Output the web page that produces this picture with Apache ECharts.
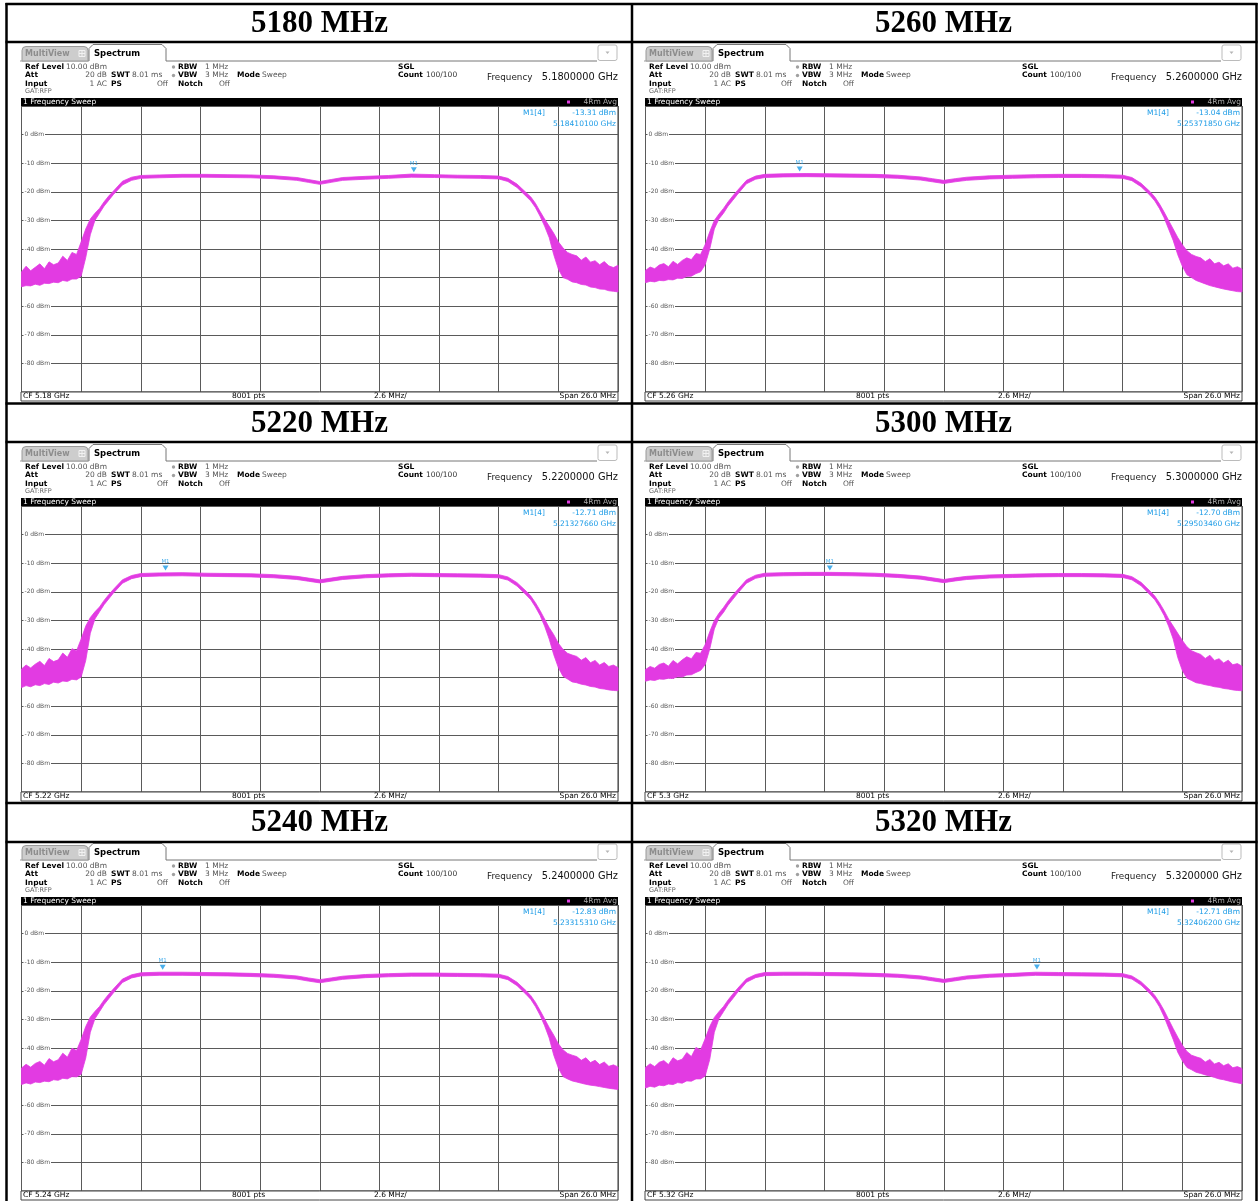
<!DOCTYPE html>
<html><head><meta charset="utf-8">
<script src="https://cdn.jsdelivr.net/npm/echarts@6/dist/echarts.min.js"></script>
<style>html,body{margin:0;padding:0;background:#fff}#c{width:1259px;height:1201px}</style>
</head><body><div id="c"></div>
<script>
// Frequency offsets from centre frequency (MHz)
const FREQ = [-13,-12.8,-12.6,-12.4,-12.2,-12,-11.8,-11.6,-11.4,-11.2,-11,-10.8,-10.6,-10.4,
  -10.2,-10,-9.8,-9.6,-9.4,-9.2,-9,-8.6,-8.2,-7.8,-7,-6,-5,-4,-3,-2,-1,-0.5,0,0.5,1,2,3,4,5,6,7,7.8,8.2,8.6,9,9.2,9.4,9.6,9.8,10,10.2,
  10.4,10.6,10.8,11,11.2,11.4,11.6,11.8,12,12.2,12.4,12.6,12.8,13];

// Trace envelopes (dBm): upper and lower edge of the noisy trace
const P5180_UP = [-48,-46.0,-47.6,-46.4,-45.2,-46.9,-44.5,-45.5,-44.9,-42.5,-44.0,-41.2,-41.9,-37.5,
  -33,-29.5,-27.5,-25.8,-23.5,-21.5,-19.8,-16.3,-14.9,-14.3,-14.1,-13.9,-13.9,-14.0,-14.1,-14.4,-15.0,-15.7,-16.4,-15.7,-15.0,-14.6,-14.3,-13.8,-14.0,-14.2,-14.3,-14.5,-15.3,-17.3,-20.3,-21.8,-24.0,-26.8,-29.5,-32,-34.5,
  -37.5,-39.6,-41.2,-41.9,-42.4,-43.9,-42.8,-44.6,-44.1,-45.5,-44.4,-45.9,-46.5,-45.7];
const P5180_LO = [-53.2,-52.8,-52.9,-52.3,-52.7,-52.0,-52.1,-51.6,-51.8,-51.0,-51.3,-50.5,-50.5,-49.5,
  -43,-35,-30,-27.5,-25,-23,-21,-17.6,-16.0,-15.3,-15.1,-14.9,-14.9,-15.0,-15.1,-15.4,-16.0,-16.7,-17.4,-16.7,-16.0,-15.6,-15.3,-14.9,-15.0,-15.2,-15.3,-15.5,-16.4,-18.5,-21.6,-23.2,-25.5,-28.5,-32,-36,-42,
  -47,-50,-50.6,-51.5,-51.8,-52.4,-52.6,-53.3,-53.5,-54,-54.1,-54.6,-54.8,-55];

const P5260_UP = [-47.5,-46.3,-46.9,-45.6,-45.1,-46.2,-44.3,-45.4,-44.0,-43.1,-43.7,-41.6,-41.9,-38.5,
  -34,-30,-27.8,-25.8,-23.5,-21.5,-19.6,-16,-14.5,-13.9,-13.7,-13.6,-13.7,-13.8,-13.9,-14.2,-14.8,-15.4,-16.0,-15.4,-14.9,-14.4,-14.2,-14.0,-13.9,-13.9,-14.0,-14.2,-15.0,-17.0,-20.0,-21.8,-24.2,-27,-30,-33,-36,
  -38.5,-40.6,-41.9,-42.6,-43.1,-44.4,-43.4,-45.2,-44.6,-45.9,-45.2,-46.7,-46.2,-47];
const P5260_LO = [-51.8,-51.3,-51.5,-51,-51.1,-50.7,-50.8,-50.2,-50.3,-49.6,-49.5,-48.6,-48,-45.5,
  -40,-33,-29.5,-27.5,-25,-23,-21,-17.2,-15.6,-15,-14.8,-14.7,-14.8,-14.9,-15.0,-15.3,-15.9,-16.5,-17.1,-16.5,-16.0,-15.5,-15.3,-15.1,-15.0,-15.0,-15.1,-15.3,-16.1,-18.2,-21.3,-23.2,-25.8,-29,-33,-37,-42,
  -46,-49,-50,-51,-51.6,-52.2,-52.8,-53.2,-53.6,-54,-54.3,-54.6,-54.9,-55];

const P5220_UP = [-47,-45.6,-46.6,-45.3,-44.3,-45.8,-43.3,-44.4,-43.8,-41.4,-42.9,-39.9,-40.6,-36.5,
  -32,-29,-27,-25.3,-23,-21,-19.2,-15.8,-14.3,-13.6,-13.4,-13.3,-13.5,-13.6,-13.7,-14.0,-14.6,-15.2,-15.8,-15.2,-14.6,-14.0,-13.7,-13.5,-13.6,-13.7,-13.8,-14.0,-14.8,-16.8,-19.8,-21.5,-23.8,-26.5,-29.5,-32.5,-35,
  -38,-40.1,-41.5,-42.1,-42.6,-43.9,-43.0,-44.8,-44.0,-45.6,-44.7,-46.1,-45.6,-46.5];
const P5220_LO = [-53.5,-52.8,-53.2,-52.5,-52.8,-52.1,-52.4,-51.6,-51.9,-51.2,-51.4,-50.6,-50.8,-49.8,
  -44,-34.5,-29.5,-27,-24.5,-22.5,-20.5,-17,-15.4,-14.7,-14.5,-14.4,-14.6,-14.7,-14.8,-15.1,-15.7,-16.3,-16.9,-16.3,-15.7,-15.1,-14.8,-14.6,-14.7,-14.8,-14.9,-15.1,-15.9,-18,-21.1,-22.8,-25.3,-28.2,-32,-36.5,-42,
  -46.5,-49.5,-50.5,-51.5,-51.8,-52.3,-52.6,-53.1,-53.3,-53.8,-54,-54.3,-54.5,-54.6];

const P5300_UP = [-47.2,-46.1,-46.7,-45.4,-44.9,-46.0,-44.0,-45.2,-43.8,-42.7,-43.4,-41.2,-41.5,-38.5,
  -34,-30,-27.5,-25.5,-23.2,-21.2,-19.4,-15.8,-14.2,-13.5,-13.3,-13.2,-13.2,-13.3,-13.5,-13.9,-14.5,-15.1,-15.7,-15.1,-14.6,-14.1,-13.9,-13.7,-13.6,-13.6,-13.7,-13.9,-14.7,-16.7,-19.8,-21.5,-23.8,-26.5,-29.5,-32,-34.5,
  -37,-39.2,-40.6,-41.3,-41.9,-43.3,-42.2,-44.0,-43.4,-44.9,-43.9,-45.5,-45.1,-46];
const P5300_LO = [-51.3,-50.8,-51,-50.5,-50.6,-50.2,-50.3,-49.7,-49.8,-49.1,-49,-48.2,-47.5,-45.5,
  -40,-33,-29.2,-27.2,-24.7,-22.7,-20.7,-17,-15.3,-14.6,-14.4,-14.3,-14.3,-14.4,-14.6,-15.0,-15.6,-16.2,-16.8,-16.2,-15.7,-15.2,-15.0,-14.8,-14.7,-14.7,-14.8,-15.0,-15.8,-17.9,-21.1,-22.8,-25.3,-28.2,-32,-36.5,-43,
  -47.5,-50.2,-51,-51.8,-52.1,-52.5,-52.8,-53.2,-53.4,-53.8,-54,-54.3,-54.5,-54.6];

const P5240_UP = [-47,-45.7,-46.7,-45.4,-44.7,-46.0,-43.7,-44.8,-44.1,-41.8,-43.2,-40.1,-40.9,-37,
  -32.5,-29.2,-27.2,-25.5,-23.2,-21.2,-19.4,-15.9,-14.4,-13.7,-13.5,-13.5,-13.6,-13.7,-13.9,-14.2,-14.8,-15.5,-16.1,-15.5,-14.9,-14.3,-14.0,-13.8,-13.8,-13.9,-14.0,-14.2,-15.0,-17.0,-20.0,-21.7,-24.0,-26.8,-29.8,-32.8,-35.5,
  -38.5,-40.6,-41.9,-42.5,-43.0,-44.3,-43.4,-45.1,-44.3,-45.8,-44.9,-46.4,-45.9,-46.6];
const P5240_LO = [-52.8,-52.2,-52.6,-51.9,-52.1,-51.6,-51.8,-51.1,-51.3,-50.6,-50.8,-50,-50.1,-49.2,
  -43.5,-34.5,-29.8,-27.3,-24.8,-22.8,-20.8,-17.1,-15.5,-14.8,-14.6,-14.6,-14.7,-14.8,-15.0,-15.3,-15.9,-16.6,-17.2,-16.6,-16.0,-15.4,-15.1,-14.9,-14.9,-15.0,-15.1,-15.3,-16.1,-18.2,-21.3,-23,-25.5,-28.5,-32.2,-36.5,-42.5,
  -47,-50,-50.8,-51.5,-51.9,-52.3,-52.7,-53,-53.2,-53.5,-53.8,-54.1,-54.3,-54.5];

const P5320_UP = [-46.8,-45.5,-46.5,-45.0,-44.4,-45.8,-43.4,-44.5,-43.9,-41.6,-43.0,-39.8,-40.7,-36.8,
  -32.5,-29.3,-27.3,-25.5,-23.2,-21.2,-19.3,-15.8,-14.3,-13.6,-13.5,-13.5,-13.6,-13.7,-13.9,-14.2,-14.8,-15.4,-16.0,-15.4,-14.8,-14.2,-13.9,-13.5,-13.6,-13.7,-13.8,-14.0,-14.8,-16.8,-19.8,-21.6,-24,-26.8,-30,-33.2,-36.2,
  -39,-41.2,-42.5,-43.1,-43.6,-44.9,-44.0,-45.6,-45.0,-46.2,-45.5,-46.9,-46.5,-47.2];
const P5320_LO = [-54,-53.4,-53.7,-53,-53.2,-52.6,-52.8,-52.1,-52.3,-51.5,-51.6,-50.8,-50.8,-49.8,
  -44,-34.5,-29.8,-27.3,-24.8,-22.8,-20.7,-17,-15.4,-14.7,-14.6,-14.6,-14.7,-14.8,-15.0,-15.3,-15.9,-16.5,-17.1,-16.5,-15.9,-15.3,-15.0,-14.6,-14.7,-14.8,-14.9,-15.1,-15.9,-18,-21.1,-23,-25.6,-29,-33,-37,-41.5,
  -44.5,-46.8,-47.6,-48.5,-48.9,-49.4,-49.8,-50.3,-50.8,-51.1,-51.5,-51.9,-52.2,-52.5];

// Panel texts and markers (table order: row by row, left then right)
const TITLES = ['5180 MHz','5260 MHz','5220 MHz','5300 MHz','5240 MHz','5320 MHz'];
const CF_LABELS = ['CF 5.18 GHz','CF 5.26 GHz','CF 5.22 GHz','CF 5.3 GHz','CF 5.24 GHz','CF 5.32 GHz'];
const FREQ_LABELS = ['5.1800000 GHz','5.2600000 GHz','5.2200000 GHz','5.3000000 GHz','5.2400000 GHz','5.3200000 GHz'];
const MARKER_LEVEL_LABELS = ['-13.31 dBm','-13.04 dBm','-12.71 dBm','-12.70 dBm','-12.83 dBm','-12.71 dBm'];
const MARKER_FREQ_LABELS = ['5.18410100 GHz','5.25371850 GHz','5.21327660 GHz','5.29503460 GHz','5.23315310 GHz','5.32406200 GHz'];
const MARKER_OFFSET = [4.101, -6.2815, -6.7234, -4.9654, -6.8469, 4.062];   // MHz from CF
const MARKER_DBM = [-13.31, -13.04, -12.71, -12.70, -12.83, -12.71];
const UPPER = [P5180_UP, P5260_UP, P5220_UP, P5300_UP, P5240_UP, P5320_UP];
const LOWER = [P5180_LO, P5260_LO, P5220_LO, P5300_LO, P5240_LO, P5320_LO];
const Y_TICKS = {min:-90, max:10, step:10};
const X_TICKS = {min:-13, max:13, step:2.6};

// ---- layout ----
const MAG = '#e23be2';
const BLUE = '#1c9be6';
const FONT = '"DejaVu Sans", Verdana, sans-serif';
const COL_X = [0, 624];
const ROW_Y = [0, 400, 799];

function T(x, y, text, o) {
  return {type:'text', x:x, y:y, silent:true, z:50,
    style:Object.assign({text:text, fill:'#000', font:'7.5px ' + FONT, align:'left', verticalAlign:'middle'}, o || {})};
}
function R(x, y, w, h, style, r) {
  return {type:'rect', silent:true, z:40, shape:{x:x, y:y, width:w, height:h, r:r || 0}, style:style};
}
function L(x1, y1, x2, y2, stroke, lw, z) {
  return {type:'line', silent:true, z:z || 40, shape:{x1:x1, y1:y1, x2:x2, y2:y2}, style:{stroke:stroke, lineWidth:lw || 1}};
}

const graphics = [];
const grids = [], xAxes = [], yAxes = [], series = [];

for (let i = 0; i < 6; i++) {
  const ox = COL_X[i % 2], oy = ROW_Y[Math.floor(i / 2)];
  const X = v => v + ox, Y = v => v + oy;
  const b = 'bold 7.5px ' + FONT, g = '#555';

  // title
  graphics.push(T(X(319.5), Y(23.5), TITLES[i], {font:'bold 31px "Liberation Serif", "Times New Roman", serif', align:'center'}));

  // tab bar
  graphics.push(L(X(20), Y(61), X(89), Y(61), '#9a9a9a'));
  graphics.push(R(X(22), Y(46.5), 66, 14.5, {fill:'#cdcdcd', stroke:'#9a9a9a', lineWidth:1}, [4,4,0,0]));
  graphics.push(T(X(25), Y(54), 'MultiView', {font:'bold 8px ' + FONT, fill:'#8d8d8d'}));
  graphics.push(R(X(79), Y(50.5), 6, 6, {fill:'none', stroke:'#f2f2f2', lineWidth:1}));
  graphics.push(L(X(82), Y(50.5), X(82), Y(56.5), '#f2f2f2'));
  graphics.push(L(X(79), Y(53.5), X(85), Y(53.5), '#f2f2f2'));
  graphics.push({type:'polyline', silent:true, z:40, shape:{points:[[X(89),Y(61)],[X(89),Y(48.5)],[X(93),Y(44.5)],[X(162),Y(44.5)],[X(166),Y(48.5)],[X(166),Y(61)],[X(597),Y(61)]]}, style:{stroke:'#777', lineWidth:1, fill:null}});
  graphics.push(T(X(94), Y(53.5), 'Spectrum', {font:'bold 8.5px ' + FONT}));
  graphics.push(R(X(598), Y(45), 19, 15.5, {fill:'#fff', stroke:'#bbb', lineWidth:1}, 2));
  graphics.push({type:'polygon', silent:true, z:41, shape:{points:[[X(605.5),Y(51.5)],[X(609.5),Y(51.5)],[X(607.5),Y(54)]]}, style:{fill:'#b5b5b5'}});

  // info block
  const r1 = Y(67), r2 = Y(75.5), r3 = Y(84), r4 = Y(91);
  graphics.push(T(X(25), r1, 'Ref Level', {font:b}));
  graphics.push(T(X(107), r1, '10.00 dBm', {fill:g, align:'right'}));
  graphics.push(T(X(25), r2, 'Att', {font:b}));
  graphics.push(T(X(107), r2, '20 dB', {fill:g, align:'right'}));
  graphics.push(T(X(25), r3, 'Input', {font:b}));
  graphics.push(T(X(107), r3, '1 AC', {fill:g, align:'right'}));
  graphics.push(T(X(25), r4, 'GAT:RFP', {fill:'#666', font:'6.5px ' + FONT}));
  graphics.push(T(X(111), r2, 'SWT', {font:b}));
  graphics.push(T(X(132), r2, '8.01 ms', {fill:g}));
  graphics.push(T(X(111), r3, 'PS', {font:b}));
  graphics.push(T(X(168), r3, 'Off', {fill:g, align:'right'}));
  graphics.push({type:'circle', silent:true, z:41, shape:{cx:X(173.5), cy:r1, r:1.7}, style:{fill:'#a0a0a0'}});
  graphics.push({type:'circle', silent:true, z:41, shape:{cx:X(173.5), cy:r2, r:1.7}, style:{fill:'#a0a0a0'}});
  graphics.push(T(X(178), r1, 'RBW', {font:b}));
  graphics.push(T(X(205), r1, '1 MHz', {fill:g}));
  graphics.push(T(X(178), r2, 'VBW', {font:b}));
  graphics.push(T(X(205), r2, '3 MHz', {fill:g}));
  graphics.push(T(X(178), r3, 'Notch', {font:b}));
  graphics.push(T(X(230), r3, 'Off', {fill:g, align:'right'}));
  graphics.push(T(X(237), r2, 'Mode', {font:b}));
  graphics.push(T(X(262), r2, 'Sweep', {fill:g}));
  graphics.push(T(X(398), r1, 'SGL', {font:b}));
  graphics.push(T(X(398), r2, 'Count', {font:b}));
  graphics.push(T(X(426), r2, '100/100', {fill:'#333'}));
  graphics.push(T(X(487), Y(77.5), 'Frequency', {font:'8.8px ' + FONT, fill:'#222'}));
  graphics.push(T(X(618), Y(77.5), FREQ_LABELS[i], {font:'9.8px ' + FONT, fill:'#111', align:'right'}));

  // black header bar
  graphics.push(R(X(21), Y(98), 597, 8, {fill:'#000'}));
  graphics.push(T(X(23), Y(102), '1 Frequency Sweep', {fill:'#fff'}));
  graphics.push(R(X(567), Y(100.5), 3, 3, {fill:MAG}));
  graphics.push(T(X(617), Y(102), '4Rm Avg', {fill:'#aaa', align:'right'}));

  // marker readout
  graphics.push(T(X(523), Y(113.5), 'M1[4]', {fill:BLUE}));
  graphics.push(T(X(616), Y(113.5), MARKER_LEVEL_LABELS[i], {fill:BLUE, align:'right'}));
  graphics.push(T(X(616), Y(124), MARKER_FREQ_LABELS[i], {fill:BLUE, align:'right'}));

  // footer
  graphics.push(R(X(21), Y(392), 597, 9, {fill:'#fff', stroke:'#444', lineWidth:1}));
  graphics.push(T(X(23), Y(396.5), CF_LABELS[i]));
  graphics.push(T(X(232), Y(396.5), '8001 pts'));
  graphics.push(T(X(374), Y(396.5), '2.6 MHz/'));
  graphics.push(T(X(616), Y(396.5), 'Span 26.0 MHz', {align:'right'}));

  // chart
  grids.push({left:X(21.5), top:Y(106), width:596.5, height:286, show:true, borderColor:'#333', borderWidth:1, backgroundColor:'#fff'});
  xAxes.push({type:'value', gridIndex:i, min:X_TICKS.min, max:X_TICKS.max, interval:X_TICKS.step,
    axisLine:{show:false}, axisTick:{show:false}, axisLabel:{show:false},
    splitLine:{show:true, lineStyle:{color:'#5a5a5a', width:1}}});
  yAxes.push({type:'value', gridIndex:i, min:Y_TICKS.min, max:Y_TICKS.max, interval:Y_TICKS.step,
    axisLine:{show:false}, axisTick:{show:false},
    axisLabel:{inside:true, margin:2, fontSize:6, color:'#555', fontFamily:'DejaVu Sans',
      formatter:'{value} dBm', showMinLabel:false, showMaxLabel:false, backgroundColor:'#fff', padding:[0,1,0,1]},
    splitLine:{show:true, lineStyle:{color:'#5a5a5a', width:1}}});

  const up = UPPER[i], lo = LOWER[i];
  series.push({type:'custom', xAxisIndex:i, yAxisIndex:i, data:[0], silent:true, z:3, clip:true,
    renderItem:function (params, api) {
      const pts = [];
      for (let k = 0; k < FREQ.length; k++) pts.push(api.coord([FREQ[k], up[k]]));
      for (let k = FREQ.length - 1; k >= 0; k--) pts.push(api.coord([FREQ[k], lo[k]]));
      return {type:'polygon', shape:{points:pts}, style:{fill:MAG, stroke:MAG, lineWidth:0.8}};
    }});
  series.push({type:'scatter', xAxisIndex:i, yAxisIndex:i, silent:true, z:5,
    data:[[MARKER_OFFSET[i], MARKER_DBM[i]]],
    symbol:'triangle', symbolRotate:180, symbolSize:[6,5], symbolOffset:[0,-3],
    itemStyle:{color:BLUE},
    label:{show:true, formatter:'M1', position:'top', distance:1, color:BLUE, fontSize:5.5, fontFamily:'DejaVu Sans'}});
}

// table borders
const TB = 2.5;
[4, 42, 403.5, 442, 803, 842].forEach(y => graphics.push(L(5.5, y, 1257.5, y, '#000', TB, 60)));
[6.5, 632, 1256.5].forEach(x => graphics.push(L(x, 3, x, 1201, '#000', TB, 60)));

const chart = echarts.init(document.getElementById('c'), null, {renderer:'canvas'});
chart.setOption({
  animation:false,
  backgroundColor:'#fff',
  grid:grids, xAxis:xAxes, yAxis:yAxes, series:series,
  graphic:{elements:graphics}
});
</script></body></html>
